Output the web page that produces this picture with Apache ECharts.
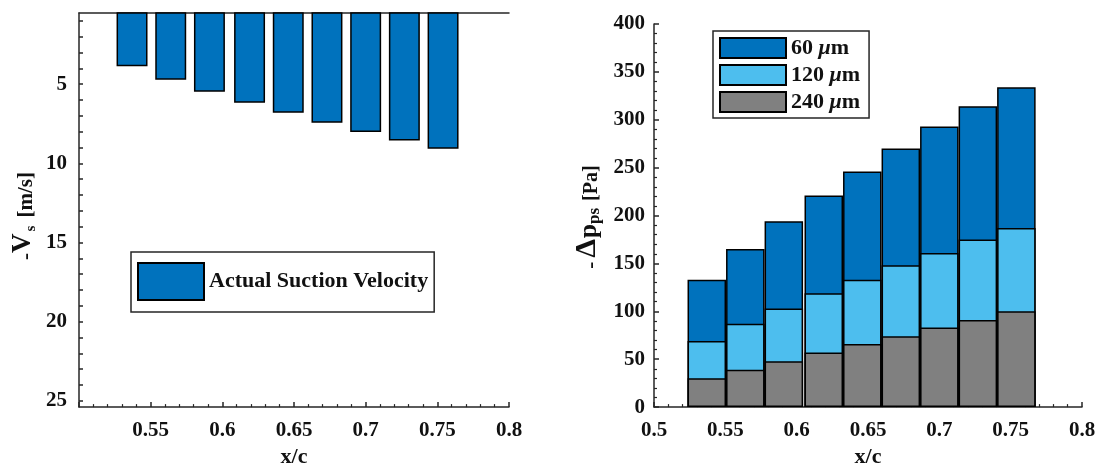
<!DOCTYPE html>
<html>
<head>
<meta charset="utf-8">
<script src="https://cdn.jsdelivr.net/npm/echarts@6/dist/echarts.min.js"></script>
<style>
html,body{margin:0;padding:0;background:#fff;}
#c{width:1099px;height:473px;}
</style>
</head>
<body>
<div id="c"></div>
<script>
// ---- data ----
const xPos = [0.537, 0.564, 0.591, 0.619, 0.646, 0.673, 0.700, 0.727, 0.754];
const suctionVelocity = [3.86, 4.71, 5.48, 6.17, 6.81, 7.44, 8.02, 8.56, 9.08];
const dp240 = [30, 39, 48, 57, 66, 74, 83, 91, 100];
const dp120 = [39, 48, 55, 62, 67, 74, 78, 84, 87];
const dp60  = [64, 78, 91, 102, 113, 122, 132, 139, 147];
const leftYLabels = [5, 10, 15, 20, 25];
const leftYTicks = [1,2,3,4,5,6,7,8,9,10,11,12,13,14,15,16,17,18,19,20,21,22,23,24,25];
const legendLeft = ['Actual Suction Velocity'];
const legendRight = ['60 μm', '120 μm', '240 μm'];

const FONT = 'Liberation Serif';
const AX = '#262626';
const TXT = '#111';
const C1 = '#0072BD', C2 = '#4DBEEE', C3 = '#808080';

const pair = (xs, ys) => xs.map((x, i) => [x, ys[i]]);
// stacked tops (segments drawn back-to-front, overlapping)
const top240 = dp240.slice();
const top120 = dp240.map((v, i) => v + dp120[i]);
const top60 = top120.map((v, i) => v + dp60[i]);

const lbl = {fontFamily: FONT, fontWeight: 'bold', fontSize: 21, color: TXT};
const tok = (fs, extra) => Object.assign({fontFamily: FONT, fontWeight: 'bold', fontSize: fs, lineHeight: fs, color: TXT, verticalAlign: 'bottom'}, extra || {});

const xAxisCommon = (grid, gap) => ({
  type: 'value', gridIndex: grid, min: 0.5, max: 0.8, interval: 0.05,
  axisLine: {onZero: false, lineStyle: {color: AX, width: 1.5}},
  axisTick: {inside: true, length: 5, lineStyle: {color: AX, width: 1.5}},
  minorTick: {show: true, splitNumber: 5, length: 3, lineStyle: {color: AX, width: 1.2}},
  splitLine: {show: false},
  nameLocation: 'middle', nameGap: gap,
  nameTextStyle: {fontFamily: FONT, fontWeight: 'bold', fontSize: 22, color: TXT},
  name: 'x/c'
});
const barStyle = c => ({color: c, borderColor: '#000', borderWidth: 1.5});

const chart = echarts.init(document.getElementById('c'), null, {renderer: 'canvas'});
chart.setOption({
  animation: false,
  backgroundColor: '#fff',
  grid: [
    {left: 79, top: 13, width: 430, height: 398},
    {left: 654, top: 24, width: 428, height: 389}
  ],
  legend: [
    {
      data: legendLeft, left: 131, top: 252, orient: 'vertical', icon: 'rect',
      itemWidth: 66, itemHeight: 37, padding: [10, 6, 11, 6],
      borderColor: AX, borderWidth: 1.5, backgroundColor: '#fff',
      textStyle: {fontFamily: FONT, fontWeight: 'bold', fontSize: 22, color: TXT},
      selectedMode: false
    },
    {
      data: legendRight, left: 713, top: 31, orient: 'vertical', icon: 'rect',
      itemWidth: 66, itemHeight: 20, itemGap: 5, padding: [6, 9, 5, 6],
      borderColor: AX, borderWidth: 1.5, backgroundColor: '#fff',
      formatter: n => n.replace('μ', '{i|μ}'),
      textStyle: {fontFamily: FONT, fontWeight: 'bold', fontSize: 22, color: TXT,
        rich: {i: {fontFamily: FONT, fontWeight: 'bold', fontStyle: 'italic', fontSize: 22, color: TXT}}},
      selectedMode: false
    }
  ],
  xAxis: [
    Object.assign(xAxisCommon(0, 33), {
      position: 'bottom',
      axisLabel: Object.assign({}, lbl, {margin: 13, formatter: v => (Math.abs(v - 0.5) < 1e-9 ? '' : String(+v.toFixed(2)))})
    }),
    {
      type: 'value', gridIndex: 0, min: 0.5, max: 0.8, position: 'top',
      axisLine: {show: true, onZero: false, lineStyle: {color: AX, width: 1.5}},
      axisTick: {show: false}, axisLabel: {show: false}, splitLine: {show: false}
    },
    Object.assign(xAxisCommon(1, 35), {
      position: 'bottom',
      axisLabel: Object.assign({}, lbl, {margin: 13, formatter: v => String(+v.toFixed(2))})
    })
  ],
  yAxis: [
    {
      type: 'value', gridIndex: 0, min: 0.5, max: 25.4, inverse: true,
      axisLine: {onZero: false, lineStyle: {color: AX, width: 1.5}},
      axisTick: {inside: true, length: 4, customValues: leftYTicks, lineStyle: {color: AX, width: 1.5}},
      axisLabel: Object.assign({}, lbl, {margin: 12, customValues: leftYLabels}),
      splitLine: {show: false},
      name: '{m|-}{V|V}{s|s}{b| [m/s]}', nameLocation: 'middle', nameRotate: 90, nameGap: 40,
      nameTextStyle: {
        rich: {
          m: tok(21, {padding: [0, 0, 2, 0]}),
          V: tok(27, {padding: [0, 0, 2, 0]}),
          s: tok(15, {padding: [0, 3, 0, 2]}),
          b: tok(21, {padding: [0, 12, 2, 0]})
        }
      }
    },
    {
      type: 'value', gridIndex: 1, min: 0, max: 400, interval: 50,
      axisLine: {onZero: false, lineStyle: {color: AX, width: 1.5}},
      axisTick: {inside: true, length: 5, lineStyle: {color: AX, width: 1.5}},
      minorTick: {show: true, splitNumber: 5, length: 3, lineStyle: {color: AX, width: 1.2}},
      axisLabel: Object.assign({}, lbl, {margin: 9}),
      splitLine: {show: false},
      name: '{m|-}{D|Δ}{p|p}{s|ps}{b| [Pa]}', nameLocation: 'middle', nameRotate: 90, nameGap: 51,
      nameTextStyle: {
        rich: {
          m: tok(21, {padding: [0, 4, 1, 0]}),
          D: tok(30, {padding: [0, 1, 1, 0]}),
          p: tok(25, {padding: [0, 0, 1, 0]}),
          s: tok(17, {padding: [0, 2, 0, 0]}),
          b: tok(20, {padding: [0, 3, 1, 0]})
        }
      }
    }
  ],
  series: [
    {
      name: legendLeft[0], type: 'bar', xAxisIndex: 0, yAxisIndex: 0,
      data: pair(xPos, suctionVelocity), barWidth: '80%', clip: true,
      itemStyle: barStyle(C1)
    },
    {
      name: legendRight[0], type: 'bar', xAxisIndex: 2, yAxisIndex: 1,
      data: pair(xPos, top60), barWidth: '100%', barGap: '-100%',
      itemStyle: barStyle(C1)
    },
    {
      name: legendRight[1], type: 'bar', xAxisIndex: 2, yAxisIndex: 1,
      data: pair(xPos, top120), barWidth: '100%', barGap: '-100%',
      itemStyle: barStyle(C2)
    },
    {
      name: legendRight[2], type: 'bar', xAxisIndex: 2, yAxisIndex: 1,
      data: pair(xPos, top240), barWidth: '100%', barGap: '-100%',
      itemStyle: barStyle(C3)
    }
  ]
});
</script>
</body>
</html>
